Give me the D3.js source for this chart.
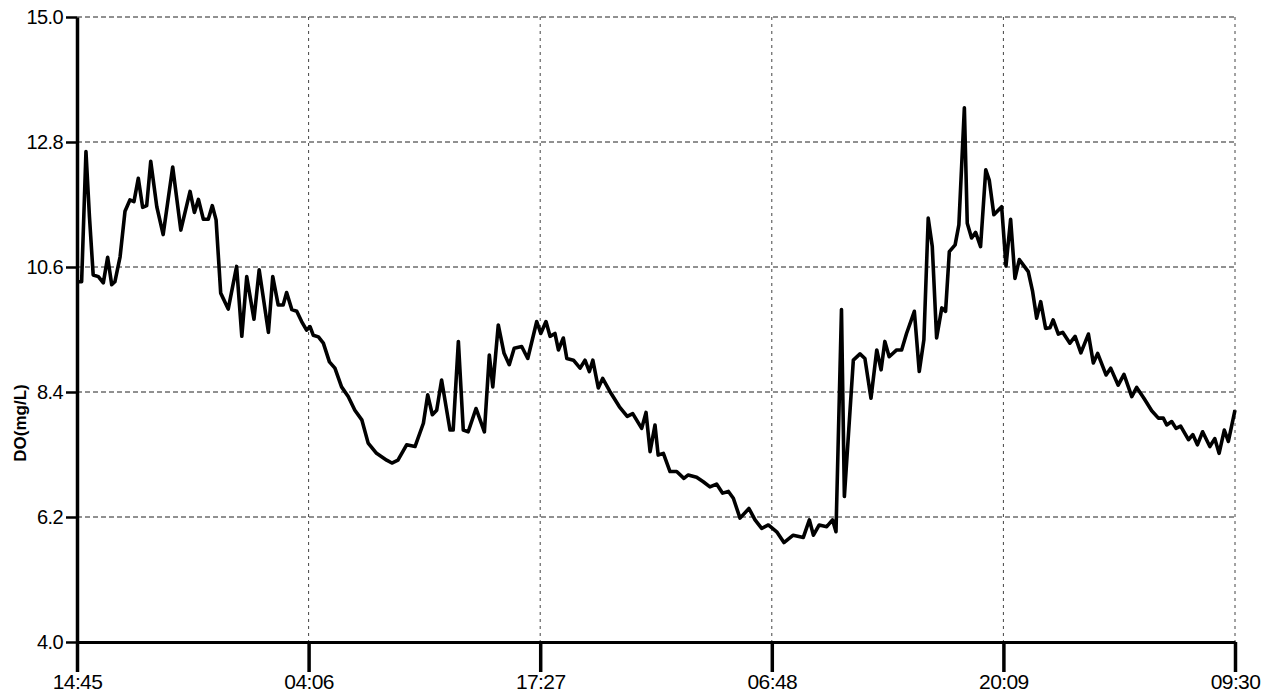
<!DOCTYPE html>
<html>
<head>
<meta charset="utf-8">
<script src="https://cdn.jsdelivr.net/npm/d3@7"></script>
<style>
  html, body { margin: 0; padding: 0; background: #fff; }
  svg { display: block; }
  .tick text { font-family: "Liberation Sans", Arial, sans-serif; fill: #000; }
</style>
</head>
<body>
<svg id="chart"></svg>
<script>
// minutes since 14:45 on day 1
const minutes = [
  0, 4, 16, 31, 43, 56, 74, 91, 106, 120, 131, 149, 166, 183, 197, 212, 227, 241, 255, 276,
  298, 331, 359, 391, 406, 420, 437, 454, 468, 481, 497, 523, 552, 570, 587, 612, 630, 662, 677, 696,
  713, 725, 743, 760, 777, 794, 806, 817, 835, 852, 873, 892, 915, 938, 961, 985, 1007, 1036, 1071, 1089,
  1110, 1140, 1169, 1198, 1213, 1229, 1244, 1261, 1290, 1301, 1319, 1336, 1353, 1380, 1409, 1426, 1438, 1457, 1477, 1495,
  1512, 1538, 1559, 1590, 1604, 1622, 1636, 1653, 1665, 1682, 1694, 1717, 1740, 1757, 1772, 1784, 1803, 1818, 1843, 1876,
  1903, 1922, 1953, 1968, 1982, 1999, 2010, 2028, 2051, 2074, 2099, 2114, 2143, 2166, 2189, 2212, 2233, 2253, 2270, 2293,
  2324, 2345, 2368, 2391, 2420, 2445, 2477, 2512, 2533, 2547, 2567, 2593, 2613, 2625, 2644, 2654, 2685, 2708, 2725, 2746,
  2766, 2781, 2794, 2809, 2835, 2852, 2869, 2896, 2913, 2929, 2944, 2958, 2973, 2991, 3004, 3017, 3037, 3050, 3069, 3079,
  3094, 3108, 3125, 3143, 3155, 3171, 3198, 3213, 3229, 3244, 3259, 3290, 3305, 3319, 3333, 3350, 3365, 3376, 3394, 3409,
  3434, 3452, 3472, 3498, 3515, 3530, 3559, 3575, 3601, 3621, 3648, 3665, 3690, 3717, 3740, 3757, 3769, 3786, 3801, 3817,
  3844, 3859, 3875, 3893, 3918, 3935, 3950, 3968, 3982, 4005
];

// dissolved oxygen, mg/L
const doValues = [
  10.34, 10.34, 10.34, 12.63, 11.49, 10.46, 10.43, 10.32, 10.77, 10.29, 10.34, 10.78, 11.58, 11.78, 11.75, 12.16, 11.65, 11.68, 12.46, 11.66,
  11.17, 12.36, 11.25, 11.93, 11.56, 11.79, 11.44, 11.44, 11.68, 11.43, 10.14, 9.86, 10.61, 9.38, 10.43, 9.68, 10.55, 9.45, 10.43, 9.93,
  9.93, 10.15, 9.85, 9.82, 9.64, 9.49, 9.55, 9.40, 9.37, 9.26, 8.93, 8.82, 8.49, 8.32, 8.08, 7.91, 7.50, 7.32, 7.20, 7.15,
  7.20, 7.47, 7.44, 7.85, 8.35, 8.00, 8.08, 8.61, 7.73, 7.73, 9.29, 7.73, 7.70, 8.11, 7.70, 9.05, 8.49, 9.58, 9.08, 8.88,
  9.17, 9.20, 8.99, 9.64, 9.43, 9.64, 9.38, 9.43, 9.14, 9.35, 8.99, 8.96, 8.82, 8.96, 8.76, 8.96, 8.47, 8.64, 8.41, 8.14,
  7.97, 8.02, 7.76, 8.04, 7.35, 7.82, 7.29, 7.32, 7.00, 7.00, 6.88, 6.94, 6.90, 6.82, 6.73, 6.78, 6.62, 6.65, 6.53, 6.18,
  6.35, 6.15, 6.00, 6.06, 5.94, 5.75, 5.88, 5.84, 6.15, 5.88, 6.06, 6.03, 6.15, 5.94, 9.85, 6.56, 8.96, 9.07, 8.99, 8.29,
  9.14, 8.79, 9.29, 9.02, 9.14, 9.14, 9.43, 9.82, 8.76, 9.32, 11.46, 10.96, 9.35, 9.88, 9.82, 10.87, 10.99, 11.34, 13.40, 11.37,
  11.11, 11.21, 10.96, 12.31, 12.13, 11.52, 11.66, 10.62, 11.44, 10.40, 10.73, 10.52, 10.17, 9.70, 9.99, 9.52, 9.53, 9.67, 9.42, 9.45,
  9.26, 9.38, 9.09, 9.42, 8.91, 9.08, 8.70, 8.82, 8.52, 8.71, 8.32, 8.48, 8.29, 8.07, 7.94, 7.94, 7.82, 7.88, 7.76, 7.80,
  7.56, 7.65, 7.47, 7.70, 7.44, 7.58, 7.32, 7.73, 7.53, 8.08
];

const xTickMinutes = [0, 801, 1602, 2403, 3204, 4005];
const xTickLabels = ["14:45", "04:06", "17:27", "06:48", "20:09", "09:30"];
const yTickValues = [4.0, 6.2, 8.4, 10.6, 12.8, 15.0];

const width = 1278, height = 699;
const margin = {top: 17, right: 43, bottom: 57, left: 77};
const innerW = width - margin.left - margin.right;
const innerH = height - margin.top - margin.bottom;

const svg = d3.select('#chart').attr('width', width).attr('height', height);
const g = svg.append('g').attr('transform', `translate(${margin.left},${margin.top})`);

const x = d3.scaleLinear().domain([0, 4005]).range([0, innerW]);
const y = d3.scaleLinear().domain([4.0, 15.0]).range([innerH, 0]);

// grid lines
g.append('g')
  .selectAll('line')
  .data(yTickValues.slice(1))
  .join('line')
  .attr('x1', 0).attr('x2', innerW)
  .attr('y1', d => y(d)).attr('y2', d => y(d))
  .attr('stroke', '#222').attr('stroke-width', 1)
  .attr('stroke-dasharray', '5,3');

g.append('g')
  .selectAll('line')
  .data(xTickMinutes.slice(1))
  .join('line')
  .attr('x1', d => x(d)).attr('x2', d => x(d))
  .attr('y1', 0).attr('y2', innerH)
  .attr('stroke', '#444').attr('stroke-width', 1)
  .attr('stroke-dasharray', '3,4');

// axes
const xAxis = g.append('g')
  .attr('transform', `translate(0,${innerH})`)
  .call(d3.axisBottom(x).tickValues(xTickMinutes)
    .tickFormat((d, i) => xTickLabels[i]).tickSize(30).tickSizeOuter(0).tickPadding(2));
xAxis.select('.domain').attr('stroke', '#000').attr('stroke-width', 3);
xAxis.selectAll('.tick line').attr('stroke', '#000').attr('stroke-width', 3.5);
xAxis.selectAll('.tick text').attr('font-size', 21).attr('letter-spacing', -0.6);

const yAxis = g.append('g')
  .call(d3.axisLeft(y).tickValues(yTickValues)
    .tickFormat(d3.format('.1f')).tickSize(11).tickSizeOuter(0).tickPadding(3));
yAxis.select('.domain').attr('stroke', '#000').attr('stroke-width', 3.5);
yAxis.selectAll('.tick line').attr('stroke', '#000').attr('stroke-width', 2.5);
yAxis.selectAll('.tick text').attr('font-size', 20).attr('letter-spacing', -0.6);

svg.append('text')
  .attr('transform', 'translate(26,423) rotate(-90)')
  .attr('text-anchor', 'middle')
  .attr('font-family', '"Liberation Sans", Arial, sans-serif')
  .attr('font-weight', 'bold')
  .attr('font-size', 17)
  .text('DO(mg/L)');

// series
const line = d3.line()
  .x((d, i) => x(minutes[i]))
  .y(d => y(d));

g.append('path')
  .datum(doValues)
  .attr('fill', 'none')
  .attr('stroke', '#000')
  .attr('stroke-width', 3.6)
  .attr('stroke-linejoin', 'round')
  .attr('d', line);
</script>
</body>
</html>
